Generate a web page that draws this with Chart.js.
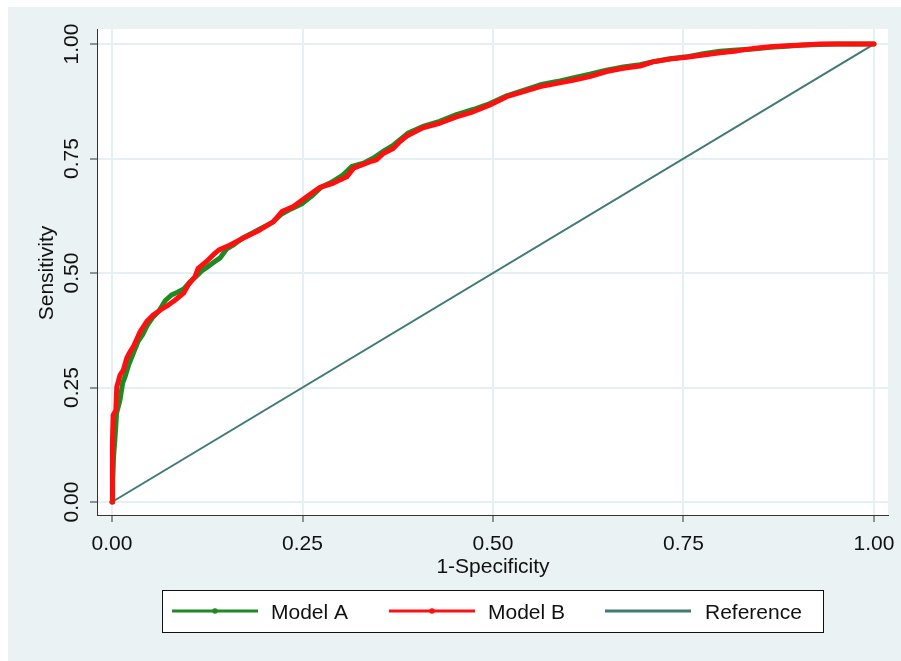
<!DOCTYPE html>
<html>
<head>
<meta charset="utf-8">
<script src="https://cdn.jsdelivr.net/npm/chart.js@4.4.1/dist/chart.umd.min.js"></script>
<style>
  html, body { margin: 0; padding: 0; background: #ffffff; }
  canvas { display: block; }
</style>
</head>
<body>
<canvas id="roc" width="901" height="661"></canvas>
<script>
// ROC curves: [1-specificity, sensitivity]
const modelA = [
  [0,0],[0.001,0.05],[0.002,0.098],[0.004,0.142],[0.006,0.194],[0.0105,0.223],
  [0.014,0.26],[0.017,0.273],[0.022,0.300],[0.028,0.325],[0.034,0.350],[0.040,0.365],
  [0.046,0.385],[0.053,0.402],[0.062,0.418],[0.070,0.440],[0.078,0.452],[0.086,0.458],
  [0.094,0.465],[0.102,0.480],[0.110,0.492],[0.118,0.505],[0.126,0.514],[0.135,0.525],
  [0.142,0.533],[0.150,0.552],[0.160,0.562],[0.172,0.577],[0.185,0.588],[0.196,0.598],
  [0.210,0.610],[0.222,0.628],[0.235,0.640],[0.250,0.652],[0.262,0.668],[0.275,0.688],
  [0.290,0.700],[0.303,0.714],[0.315,0.733],[0.330,0.740],[0.345,0.753],[0.358,0.768],
  [0.370,0.780],[0.388,0.805],[0.408,0.820],[0.430,0.831],[0.452,0.846],[0.474,0.857],
  [0.496,0.870],[0.518,0.887],[0.540,0.899],[0.562,0.911],[0.584,0.918],[0.605,0.926],
  [0.627,0.934],[0.649,0.943],[0.671,0.950],[0.693,0.955],[0.712,0.962],[0.732,0.968],
  [0.754,0.972],[0.776,0.979],[0.798,0.984],[0.820,0.987],[0.841,0.989],[0.864,0.993],
  [0.885,0.995],[0.907,0.998],[0.929,0.999],[0.950,1.0],[1,1]
];
const modelB = [
  [0,0],[0.0005,0.13],[0.0015,0.19],[0.005,0.20],[0.0062,0.251],[0.0105,0.277],
  [0.0148,0.288],[0.0193,0.314],[0.0236,0.328],[0.028,0.339],[0.037,0.372],[0.0455,0.394],
  [0.054,0.408],[0.065,0.421],[0.074,0.430],[0.083,0.441],[0.094,0.456],[0.100,0.474],
  [0.109,0.492],[0.113,0.510],[0.124,0.525],[0.135,0.543],[0.140,0.550],[0.155,0.561],
  [0.172,0.576],[0.194,0.594],[0.212,0.612],[0.223,0.634],[0.238,0.645],[0.256,0.667],
  [0.273,0.687],[0.290,0.696],[0.308,0.710],[0.317,0.729],[0.339,0.743],[0.347,0.747],
  [0.356,0.761],[0.369,0.772],[0.378,0.787],[0.387,0.799],[0.408,0.817],[0.430,0.827],
  [0.452,0.841],[0.474,0.852],[0.496,0.867],[0.518,0.885],[0.540,0.896],[0.562,0.907],
  [0.584,0.914],[0.605,0.921],[0.627,0.929],[0.649,0.940],[0.671,0.947],[0.693,0.952],
  [0.710,0.961],[0.732,0.967],[0.754,0.971],[0.776,0.976],[0.798,0.981],[0.820,0.985],
  [0.841,0.990],[0.864,0.994],[0.885,0.996],[0.907,0.998],[0.929,1.0],[1,1]
];
const reference = [[0,0],[1,1]];

const seriesNames = ['Model A', 'Model B', 'Reference'];
const tickValues = [0, 0.25, 0.5, 0.75, 1];
const tickLabels = ['0.00', '0.25', '0.50', '0.75', '1.00'];
const xTitle = '1-Specificity';
const yTitle = 'Sensitivity';

const FONT = '21px "Liberation Sans", Arial, sans-serif';
const COLORS = ['#1f8a22', '#ff1010', '#3f7b73'];

const toPts = arr => arr.map(p => ({ x: p[0], y: p[1] }));

// Light panel behind everything, white plot region
const backdrop = {
  id: 'backdrop',
  beforeDraw(chart) {
    const { ctx, chartArea: a } = chart;
    ctx.save();
    ctx.fillStyle = '#ffffff';
    ctx.fillRect(0, 0, chart.width, chart.height);
    ctx.fillStyle = '#eaf2f3';
    ctx.fillRect(8, 7, chart.width - 8, chart.height - 7);
    ctx.fillStyle = '#ffffff';
    ctx.fillRect(a.left, a.top, a.right - a.left, a.bottom - a.top);
    ctx.restore();
  }
};

// Tick labels, axis titles and the boxed legend
const annotations = {
  id: 'annotations',
  afterDraw(chart) {
    const { ctx, scales } = chart;
    const xs = scales.x, ys = scales.y;
    ctx.save();
    ctx.font = FONT;
    ctx.fillStyle = '#111111';
    ctx.textBaseline = 'alphabetic';

    // x ticks
    ctx.textAlign = 'center';
    tickValues.forEach((v, i) => {
      ctx.fillText(tickLabels[i], xs.getPixelForValue(v), 550);
    });
    ctx.fillText(xTitle, (xs.getPixelForValue(0) + xs.getPixelForValue(1)) / 2, 573);

    // y ticks (rotated)
    tickValues.forEach((v, i) => {
      ctx.save();
      ctx.translate(78, ys.getPixelForValue(v));
      ctx.rotate(-Math.PI / 2);
      ctx.fillText(tickLabels[i], 0, 0);
      ctx.restore();
    });
    ctx.save();
    ctx.translate(53, (ys.getPixelForValue(0) + ys.getPixelForValue(1)) / 2);
    ctx.rotate(-Math.PI / 2);
    ctx.fillText(yTitle, 0, 0);
    ctx.restore();

    // legend
    const box = { x: 162, y: 590, w: 661, h: 42 };
    ctx.fillStyle = '#ffffff';
    ctx.fillRect(box.x, box.y, box.w, box.h);
    ctx.strokeStyle = '#111111';
    ctx.lineWidth = 1;
    ctx.strokeRect(box.x + 0.5, box.y + 0.5, box.w, box.h);

    const cy = 611;
    const items = [
      { x0: 172, x1: 258, tx: 271, dot: true },
      { x0: 389, x1: 475, tx: 488, dot: true },
      { x0: 605, x1: 691, tx: 705, dot: false }
    ];
    ctx.textAlign = 'left';
    items.forEach((it, i) => {
      const ds = chart.data.datasets[i];
      ctx.strokeStyle = ds.borderColor;
      ctx.lineWidth = 3;
      ctx.beginPath();
      ctx.moveTo(it.x0, cy);
      ctx.lineTo(it.x1, cy);
      ctx.stroke();
      if (it.dot) {
        ctx.fillStyle = ds.borderColor;
        ctx.beginPath();
        ctx.arc((it.x0 + it.x1) / 2, cy, 2.8, 0, Math.PI * 2);
        ctx.fill();
      }
      ctx.fillStyle = '#111111';
      ctx.fillText(ds.label, it.tx, cy + 7.5);
    });
    ctx.restore();
  }
};

const fixedTicks = scale => {
  scale.ticks = tickValues.map(v => ({ value: v }));
};

const gridOpts = {
  color: '#e6eff1',
  lineWidth: 2,
  drawTicks: true,
  tickLength: 7,
  tickColor: '#333333',
  tickWidth: 1
};

new Chart(document.getElementById('roc'), {
  type: 'line',
  data: {
    datasets: [
      {
        label: seriesNames[0], data: toPts(modelA), borderColor: COLORS[0],
        borderWidth: 5, pointRadius: 0, tension: 0, order: 1,
        borderJoinStyle: 'round', borderCapStyle: 'round'
      },
      {
        label: seriesNames[1], data: toPts(modelB), borderColor: COLORS[1],
        borderWidth: 5, pointRadius: 0, tension: 0, order: 0,
        borderJoinStyle: 'round', borderCapStyle: 'round'
      },
      {
        label: seriesNames[2], data: toPts(reference), borderColor: COLORS[2],
        borderWidth: 2, pointRadius: 0, tension: 0, order: 2
      }
    ]
  },
  options: {
    responsive: false,
    animation: false,
    devicePixelRatio: 1,
    layout: { padding: { top: 29, right: 13, left: 0, bottom: 0 } },
    plugins: { legend: { display: false }, tooltip: { enabled: false } },
    scales: {
      x: {
        type: 'linear',
        min: -0.0197, max: 1.0184,
        afterBuildTicks: fixedTicks,
        afterFit: s => { s.height = 146; },
        ticks: { display: false },
        grid: gridOpts,
        border: { display: true, color: '#333333', width: 1 }
      },
      y: {
        type: 'linear',
        min: -0.0284, max: 1.0328,
        afterBuildTicks: fixedTicks,
        afterFit: s => { s.width = 97; },
        ticks: { display: false },
        grid: gridOpts,
        border: { display: true, color: '#333333', width: 1 }
      }
    }
  },
  plugins: [backdrop, annotations]
});
</script>
</body>
</html>
